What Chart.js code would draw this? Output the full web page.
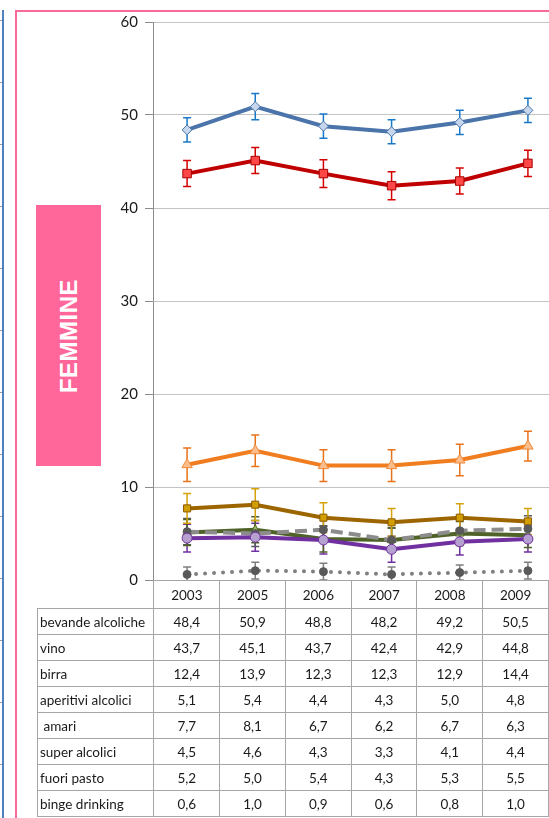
<!DOCTYPE html>
<html>
<head>
<meta charset="utf-8">
<script src="https://cdn.jsdelivr.net/npm/chart.js@4.4.0/dist/chart.umd.min.js"></script>
<style>
    html, body { margin: 0; padding: 0; background: #fff; overflow: hidden; width: 549px; height: 818px; }
    body { position: relative; font-family: Lato, "Open Sans", sans-serif; }
    .blue-line { position: absolute; left: 2px; top: 10px; width: 2px; height: 808px; background: #4f81bd; }
    .blue-ticks { position: absolute; left: 0; top: 20px; width: 2px; height: 798px;
        background: repeating-linear-gradient(to bottom, #9a9a9a 0, #9a9a9a 1px, transparent 1px, transparent 62px); }
    .frame { position: absolute; left: 15px; top: 10px; width: 600px; height: 900px;
        border-left: 2px solid #f7689b; border-top: 2px solid #f7689b; }
    .label-box { position: absolute; left: 36px; top: 205px; width: 65px; height: 261px; background: #ff6699; }
    .label-box span { position: absolute; left: 50%; top: 50%; transform: translate(-50%, -50%) rotate(-90deg);
        color: #fff; font: bold 24px "Liberation Sans", Arial, sans-serif; letter-spacing: 0.5px; white-space: nowrap; }
    #chartWrap { position: absolute; left: 0; top: 0; width: 570px; height: 596px; }
    table { position: absolute; left: 37px; top: 580px; border-collapse: collapse; font-size: 13.5px; color: #1a1a1a; table-layout: fixed; }
    td { border: 1px solid #a6a6a6; height: 25px; padding: 0; text-align: center; white-space: nowrap; overflow: hidden; }
    td.name { text-align: left; padding-left: 2px; width: 114px; }
    td.val { width: 67px; }
    tr.head td { height: 27px; }
    tr.head td.empty { border: none; border-bottom: 1px solid #a6a6a6; }
</style>
</head>
<body>
<div class="blue-line"></div>
<div class="blue-ticks"></div>
<div class="frame"></div>
<div class="label-box"><span>FEMMINE</span></div>
<div id="chartWrap"><canvas id="femmineChart" width="570" height="596"></canvas></div>
<table id="dataTable"></table>

<script>
// Data
const years = ['2003', '2005', '2006', '2007', '2008', '2009'];
const yTicks = [0, 10, 20, 30, 40, 50, 60];

const bevande = [48.4, 50.9, 48.8, 48.2, 49.2, 50.5];
const vino = [43.7, 45.1, 43.7, 42.4, 42.9, 44.8];
const birra = [12.4, 13.9, 12.3, 12.3, 12.9, 14.4];
const aperitivi = [5.1, 5.4, 4.4, 4.3, 5.0, 4.8];
const amari = [7.7, 8.1, 6.7, 6.2, 6.7, 6.3];
const superAlcolici = [4.5, 4.6, 4.3, 3.3, 4.1, 4.4];
const fuoriPasto = [5.2, 5.0, 5.4, 4.3, 5.3, 5.5];
const binge = [0.6, 1.0, 0.9, 0.6, 0.8, 1.0];

// error bar half-widths (estimated)
const errBevande = [1.3, 1.4, 1.3, 1.3, 1.3, 1.3];
const errVino = [1.4, 1.4, 1.5, 1.5, 1.4, 1.4];
const errBirra = [1.8, 1.7, 1.7, 1.7, 1.7, 1.6];
const errAperitivi = [1.4, 1.4, 1.4, 1.3, 1.3, 1.3];
const errAmari = [1.6, 1.7, 1.6, 1.5, 1.5, 1.4];
const errSuper = [1.5, 1.5, 1.5, 1.4, 1.4, 1.4];
const errFuori = [1.4, 1.4, 1.3, 1.3, 1.4, 1.4];
const errBinge = [0.8, 0.9, 0.9, 0.8, 0.8, 0.9];

const tableRows = [
    ['bevande alcoliche', bevande],
    ['vino', vino],
    ['birra', birra],
    ['aperitivi alcolici', aperitivi],
    ['\u00a0amari', amari],
    ['super alcolici', superAlcolici],
    ['fuori pasto', fuoriPasto],
    ['binge drinking', binge]
];

// Build the data table under the chart
const table = document.getElementById('dataTable');
let html = '<tr class="head"><td class="name empty"></td>';
years.forEach(y => { html += '<td class="val">' + y + '</td>'; });
html += '</tr>';
tableRows.forEach(row => {
    html += '<tr><td class="name">' + row[0] + '</td>';
    row[1].forEach(v => { html += '<td class="val">' + v.toFixed(1).replace('.', ',') + '</td>'; });
    html += '</tr>';
});
table.innerHTML = html;

// Error bars drawn with the chart's own scales
const errorBars = {
    id: 'errorBars',
    beforeDatasetsDraw(chart) {
        const ctx = chart.ctx;
        const yScale = chart.scales.y;
        const area = chart.chartArea;
        ctx.save();
        ctx.beginPath();
        ctx.rect(area.left, area.top - 5, area.right - area.left, area.bottom - area.top + 5);
        ctx.clip();
        chart.data.datasets.forEach((ds, i) => {
            const meta = chart.getDatasetMeta(i);
            ctx.strokeStyle = ds.errorColor;
            ctx.lineWidth = 1.5;
            meta.data.forEach((pt, j) => {
                const top = yScale.getPixelForValue(ds.data[j] + ds.errors[j]);
                const bot = yScale.getPixelForValue(ds.data[j] - ds.errors[j]);
                ctx.beginPath();
                ctx.moveTo(pt.x, top); ctx.lineTo(pt.x, bot);
                ctx.moveTo(pt.x - 4, top); ctx.lineTo(pt.x + 4, top);
                ctx.moveTo(pt.x - 4, bot); ctx.lineTo(pt.x + 4, bot);
                ctx.stroke();
            });
        });
        ctx.restore();
    }
};

function series(label, data, errors, color, errorColor, pointStyle, pointBg, pointBorder, radius, extra) {
    return Object.assign({
        label: label,
        data: data,
        errors: errors,
        errorColor: errorColor,
        borderColor: color,
        borderWidth: 4,
        pointStyle: pointStyle,
        pointRadius: radius,
        pointBackgroundColor: pointBg,
        pointBorderColor: pointBorder,
        pointBorderWidth: 1,
        tension: 0,
        fill: false
    }, extra || {});
}

const ctx = document.getElementById('femmineChart').getContext('2d');
new Chart(ctx, {
    type: 'line',
    data: {
        labels: years,
        datasets: [
            series('bevande alcoliche', bevande, errBevande, '#4a74aa', '#1a78c8', 'rectRot', '#c6d6ec', '#4a74aa', 5),
            series('vino', vino, errVino, '#c00000', '#d40000', 'rect', '#ff4747', '#a80000', 6),
            series('birra', birra, errBirra, '#f07d1f', '#e8731a', 'triangle', '#fbbd8c', '#f08a3a', 6),
            series('super alcolici', superAlcolici, errSuper, '#7030a0', '#7030a0', 'circle', '#b6a0d0', '#7030a0', 5),
            series('fuori pasto', fuoriPasto, errFuori, '#8c8c8c', '#595959', 'circle', '#595959', '#595959', 4, { borderDash: [12, 6] }),
            series('aperitivi alcolici', aperitivi, errAperitivi, '#4f6228', '#4f6228', 'triangle', '#9bbb59', '#4f6228', 5),
            series('amari', amari, errAmari, '#9c6500', '#d4a20a', 'rect', '#d39e00', '#8a5a00', 5),
            series('binge drinking', binge, errBinge, '#7f7f7f', '#7f7f7f', 'circle', '#595959', '#595959', 4,
                { borderWidth: 4, borderDash: [0, 9], borderCapStyle: 'round' })
        ]
    },
    options: {
        responsive: false,
        animation: false,
        layout: { padding: { left: 0, top: 22, right: 8, bottom: 3 } },
        scales: {
            x: {
                offset: true,
                grid: { display: false, drawTicks: false },
                border: { display: true, color: '#8c8c8c', width: 1 },
                ticks: { display: false },
                afterFit: function(scale) { scale.height = 0; }
            },
            y: {
                min: 0,
                max: 60,
                afterBuildTicks: function(scale) { scale.ticks = yTicks.map(v => ({ value: v })); },
                grid: { color: '#c4c4c4', tickColor: '#8c8c8c', tickLength: 8, lineWidth: 1 },
                border: { display: true, color: '#8c8c8c', width: 1 },
                ticks: { color: '#1a1a1a', padding: 7, font: { family: 'Lato, "Open Sans", sans-serif', size: 15 } },
                afterFit: function(scale) { scale.width = 153; }
            }
        },
        plugins: {
            legend: { display: false },
            tooltip: { enabled: false }
        }
    },
    plugins: [errorBars]
});
</script>
</body>
</html>
